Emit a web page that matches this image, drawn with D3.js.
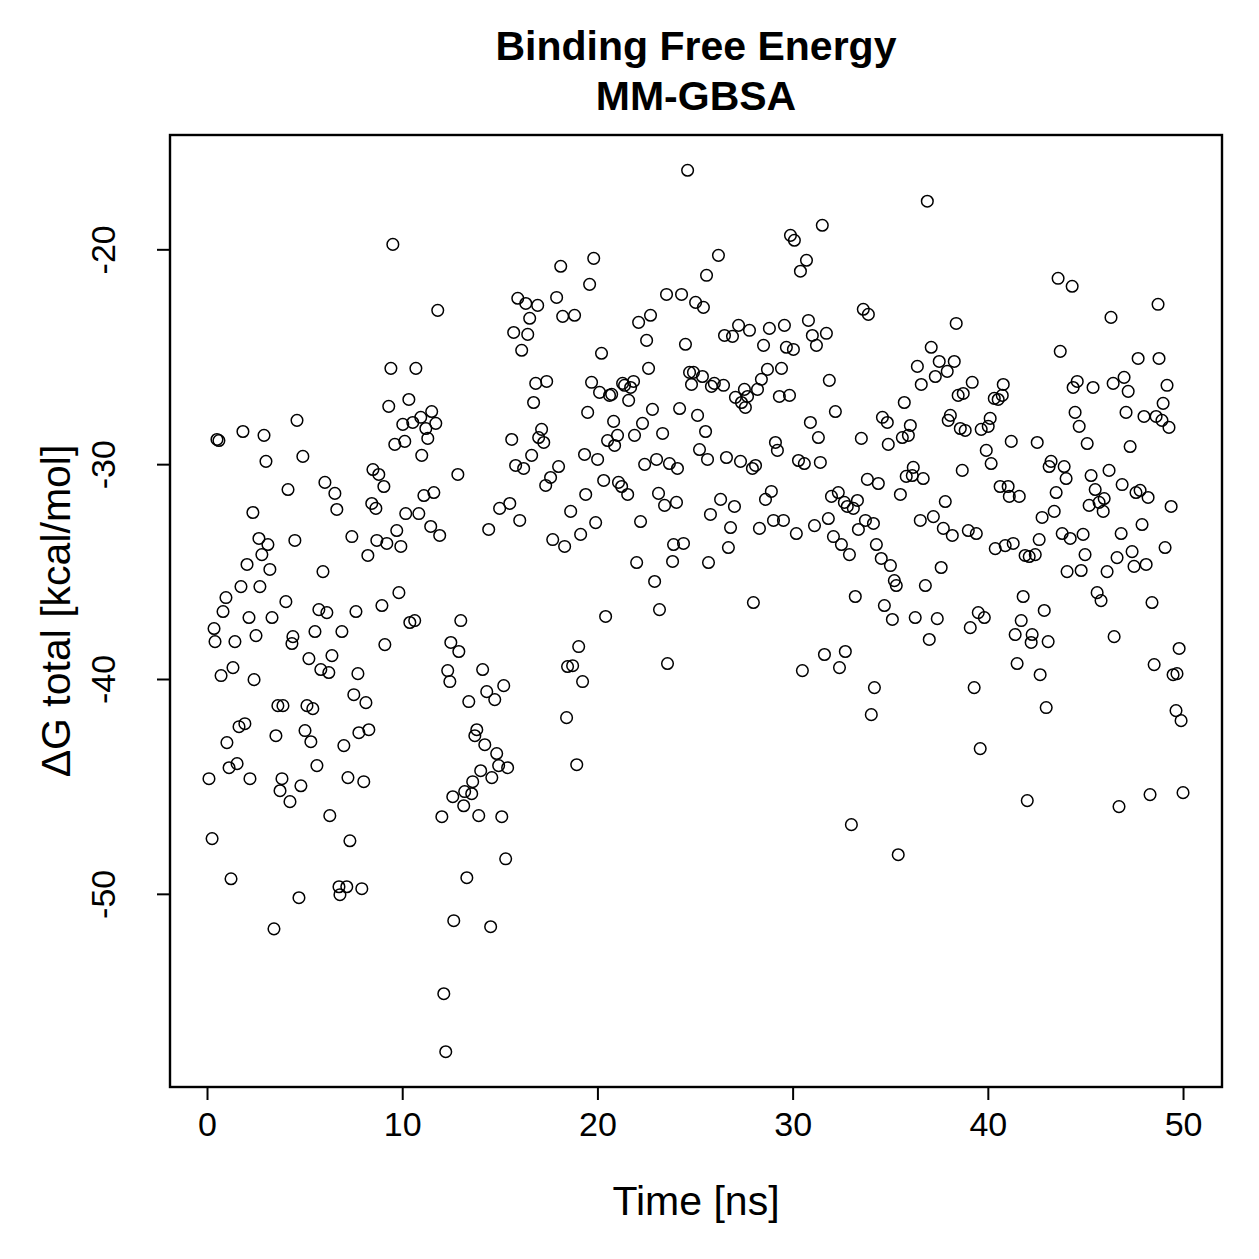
<!DOCTYPE html>
<html>
<head>
<meta charset="utf-8">
<script src="https://cdn.jsdelivr.net/npm/d3@7"></script>
<style>
  body { margin: 0; background: #fff; }
  svg text { font-family: "Liberation Sans", Arial, Helvetica, sans-serif; fill: #000; }
</style>
</head>
<body>
<div class="chartDiv"></div>
<script>
// MM-GBSA binding free energy over simulation time

let titleLines = ["Binding Free Energy", "MM-GBSA"];
let xLabel = "Time [ns]";
let yLabel = "\u0394G total [kcal/mol]";
let xTicks = [0, 10, 20, 30, 40, 50];
let yTicks = [-50, -40, -30, -20];

// time [ns]
let time = [
  0.10, 0.26, 0.36, 0.41, 0.51, 0.61, 0.72, 0.82, 0.97, 1.02, 1.13, 1.23, 1.33, 1.43, 1.54, 1.64, 1.74, 1.84, 1.94, 2.05,
  2.15, 2.20, 2.35, 2.41, 2.51, 2.66, 2.71, 2.81, 2.92, 3.02, 3.12, 3.22, 3.33, 3.43, 3.53, 3.63, 3.74, 3.84, 3.89, 4.04,
  4.15, 4.25, 4.35, 4.40, 4.50, 4.61, 4.71, 4.81, 4.91, 5.02, 5.12, 5.22, 5.32, 5.42, 5.53, 5.63, 5.73, 5.83, 5.94, 6.04,
  6.14, 6.24, 6.29, 6.40, 6.55, 6.65, 6.76, 6.81, 6.91, 7.01, 7.16, 7.22, 7.32, 7.42, 7.52, 7.63, 7.73, 7.78, 7.93, 8.03,
  8.14, 8.24, 8.29, 8.44, 8.50, 8.65, 8.70, 8.80, 8.96, 9.06, 9.11, 9.21, 9.31, 9.42, 9.52, 9.62, 9.72, 9.83, 9.93, 10.03,
  10.13, 10.18, 10.34, 10.39, 10.54, 10.64, 10.70, 10.85, 10.95, 11.00, 11.11, 11.21, 11.31, 11.46, 11.51, 11.62, 11.72, 11.82, 11.92, 12.03,
  12.13, 12.23, 12.33, 12.44, 12.49, 12.59, 12.64, 12.85, 12.90, 13.00, 13.15, 13.20, 13.31, 13.41, 13.56, 13.61, 13.72, 13.82, 13.92, 14.02,
  14.12, 14.23, 14.33, 14.43, 14.53, 14.59, 14.74, 14.84, 14.94, 14.99, 15.10, 15.20, 15.30, 15.40, 15.51, 15.61, 15.71, 15.81, 15.92, 16.02,
  16.12, 16.22, 16.33, 16.43, 16.53, 16.63, 16.73, 16.84, 16.94, 16.99, 17.14, 17.25, 17.35, 17.40, 17.60, 17.71, 17.91, 18.01, 18.12, 18.22,
  18.32, 18.42, 18.47, 18.63, 18.73, 18.83, 18.94, 19.04, 19.14, 19.24, 19.34, 19.40, 19.50, 19.60, 19.70, 19.81, 19.91, 20.01, 20.11, 20.21,
  20.32, 20.42, 20.52, 20.62, 20.73, 20.83, 20.88, 21.03, 21.08, 21.24, 21.29, 21.39, 21.55, 21.60, 21.70, 21.85, 21.90, 22.01, 22.11, 22.21,
  22.31, 22.42, 22.52, 22.62, 22.72, 22.82, 22.93, 23.03, 23.13, 23.18, 23.34, 23.44, 23.54, 23.59, 23.69, 23.85, 23.90, 24.05, 24.10, 24.21,
  24.31, 24.41, 24.51, 24.62, 24.72, 24.82, 24.92, 25.03, 25.13, 25.23, 25.38, 25.43, 25.54, 25.59, 25.64, 25.69, 25.79, 25.84, 25.99, 26.20,
  26.31, 26.46, 26.51, 26.61, 26.71, 26.82, 26.92, 27.02, 27.07, 27.23, 27.33, 27.38, 27.53, 27.58, 27.69, 27.79, 27.94, 27.99, 28.10, 28.20,
  28.30, 28.40, 28.51, 28.61, 28.71, 28.81, 28.91, 29.02, 29.12, 29.22, 29.32, 29.43, 29.53, 29.58, 29.68, 29.84, 29.89, 30.04, 30.09, 30.19,
  30.30, 30.40, 30.50, 30.60, 30.71, 30.81, 30.91, 31.01, 31.12, 31.22, 31.32, 31.42, 31.52, 31.63, 31.73, 31.83, 31.88, 31.99, 32.09, 32.19,
  32.34, 32.40, 32.50, 32.65, 32.70, 32.80, 32.91, 33.01, 33.11, 33.21, 33.32, 33.37, 33.52, 33.62, 33.73, 33.83, 33.88, 34.03, 34.14, 34.19,
  34.29, 34.39, 34.54, 34.60, 34.70, 34.85, 34.90, 35.01, 35.11, 35.21, 35.31, 35.41, 35.52, 35.62, 35.72, 35.82, 35.93, 36.03, 36.13, 36.18,
  36.28, 36.39, 36.54, 36.59, 36.69, 36.80, 36.90, 37.00, 37.10, 37.21, 37.31, 37.41, 37.51, 37.61, 37.72, 37.82, 37.92, 37.97, 38.08, 38.18,
  38.28, 38.38, 38.48, 38.59, 38.69, 38.74, 38.84, 39.00, 39.10, 39.20, 39.30, 39.41, 39.51, 39.61, 39.66, 39.82, 39.92, 40.02, 40.12, 40.17,
  40.33, 40.38, 40.53, 40.63, 40.74, 40.79, 40.89, 41.04, 41.10, 41.20, 41.30, 41.40, 41.50, 41.61, 41.71, 41.81, 41.91, 42.02, 42.12, 42.22,
  42.27, 42.43, 42.53, 42.63, 42.68, 42.78, 42.89, 42.99, 43.09, 43.14, 43.24, 43.40, 43.50, 43.60, 43.71, 43.81, 43.91, 44.01, 44.06, 44.22,
  44.32, 44.37, 44.47, 44.58, 44.68, 44.78, 44.88, 44.98, 45.09, 45.19, 45.29, 45.39, 45.50, 45.60, 45.70, 45.80, 45.91, 45.96, 46.11, 46.21,
  46.31, 46.42, 46.47, 46.62, 46.72, 46.83, 46.88, 46.98, 47.08, 47.19, 47.29, 47.39, 47.49, 47.59, 47.70, 47.80, 47.90, 48.00, 48.11, 48.21,
  48.31, 48.41, 48.52, 48.62, 48.72, 48.77, 48.92, 48.98, 49.08, 49.18, 49.28, 49.39, 49.49, 49.64, 49.69, 49.80, 49.90, 50.00
];

// delta G total [kcal/mol]
let dGtotal = [
  -44.64, -47.43, -37.65, -38.26, -28.85, -28.90, -39.84, -36.86, -36.21, -42.96, -44.13, -49.30, -39.47, -38.26, -43.94, -42.22, -35.70, -28.48, -42.08, -34.67,
  -37.14, -44.64, -32.25, -40.03, -37.98, -33.46, -35.70, -34.21, -28.66, -29.87, -33.74, -34.90, -37.14, -51.63, -42.64, -41.24, -45.20, -44.64, -41.24, -36.40,
  -31.18, -45.71, -38.35, -38.03, -33.55, -27.96, -50.18, -44.97, -29.64, -42.40, -41.24, -39.05, -42.92, -41.38, -37.79, -44.03, -36.77, -39.56, -35.00, -30.85,
  -36.91, -39.70, -46.36, -38.91, -31.36, -32.11, -49.67, -50.04, -37.79, -43.10, -49.67, -44.59, -47.53, -33.37, -40.73, -36.86, -39.75, -42.50, -49.76, -44.78,
  -41.10, -34.25, -42.36, -31.83, -30.25, -32.06, -33.55, -30.48, -36.58, -31.04, -38.40, -33.69, -27.31, -25.54, -19.77, -29.08, -33.09, -35.98, -33.83, -28.15,
  -28.94, -32.30, -26.99, -37.37, -28.06, -37.28, -25.54, -32.30, -27.82, -29.59, -31.46, -28.34, -28.80, -32.90, -27.55, -31.32, -28.10, -22.84, -33.32, -46.41,
  -54.65, -57.35, -39.61, -40.12, -38.30, -45.48, -51.25, -30.48, -38.72, -37.28, -45.90, -45.24, -49.25, -41.05, -45.34, -44.78, -42.64, -42.36, -46.36, -44.27,
  -39.56, -43.06, -40.59, -33.04, -51.53, -44.59, -40.96, -43.47, -44.03, -32.06, -46.41, -40.31, -48.37, -44.13, -31.83, -28.85, -23.87, -30.06, -22.28, -32.62,
  -24.70, -30.20, -22.52, -23.96, -23.21, -29.59, -27.13, -26.24, -22.61, -28.76, -28.38, -28.99, -30.99, -26.15, -30.62, -33.51, -22.24, -30.11, -20.79, -23.12,
  -33.83, -41.80, -39.42, -32.20, -39.38, -23.07, -43.99, -38.49, -33.27, -40.12, -29.55, -31.41, -27.59, -21.63, -26.19, -20.42, -32.72, -29.78, -26.66, -24.84,
  -30.76, -37.09, -28.90, -26.80, -26.75, -28.01, -29.13, -28.66, -30.85, -31.04, -26.24, -26.33, -31.41, -27.03, -26.43, -26.15, -28.66, -34.58, -23.40, -32.67,
  -28.10, -30.01, -24.24, -25.54, -23.07, -27.45, -35.46, -29.78, -31.36, -36.77, -28.57, -31.92, -22.10, -39.28, -29.97, -34.53, -33.74, -31.78, -30.20, -27.41,
  -22.10, -33.69, -24.42, -16.32, -25.73, -26.29, -25.73, -22.47, -27.73, -29.32, -25.92, -22.70, -28.48, -21.21, -29.78, -34.58, -32.34, -26.38, -26.24, -20.28,
  -31.64, -26.33, -24.01, -29.69, -33.88, -32.95, -24.05, -31.97, -26.89, -23.54, -29.87, -27.13, -26.52, -27.36, -26.85, -23.77, -30.20, -36.44, -30.06, -26.52,
  -32.99, -26.05, -24.47, -31.64, -25.59, -23.68, -31.27, -32.62, -28.99, -29.36, -26.85, -25.54, -32.62, -23.54, -24.56, -26.80, -19.35, -24.66, -19.58, -33.23,
  -29.83, -21.02, -39.61, -29.97, -20.51, -23.31, -28.06, -24.01, -32.86, -24.47, -28.76, -29.92, -18.88, -38.86, -23.91, -32.53, -26.10, -31.50, -33.37, -27.55,
  -31.32, -39.47, -33.74, -31.78, -38.72, -31.97, -34.21, -46.78, -32.06, -36.16, -31.69, -33.04, -28.80, -22.79, -32.62, -30.71, -23.03, -41.66, -32.76, -40.40,
  -33.74, -30.90, -34.39, -27.82, -36.58, -28.06, -29.08, -34.72, -37.23, -35.42, -35.65, -48.18, -31.41, -28.76, -27.13, -30.57, -28.66, -28.20, -30.53, -30.15,
  -37.14, -25.45, -32.62, -26.29, -30.67, -35.65, -17.76, -38.16, -24.56, -32.44, -25.92, -37.19, -25.22, -34.81, -32.99, -31.74, -25.68, -27.96, -27.73, -33.32,
  -25.22, -23.45, -26.80, -28.34, -30.29, -26.71, -28.43, -33.09, -37.61, -26.19, -40.40, -33.23, -36.91, -43.24, -28.38, -37.14, -29.36, -28.24, -27.87, -29.97,
  -26.94, -33.93, -26.99, -31.04, -26.80, -26.29, -33.79, -31.04, -31.50, -28.94, -33.69, -37.93, -39.28, -31.50, -37.28, -36.16, -34.25, -45.66, -34.30, -38.30,
  -37.93, -34.21, -28.99, -33.51, -39.80, -32.48, -36.81, -41.33, -38.26, -30.11, -29.87, -32.20, -31.32, -21.35, -24.75, -33.23, -30.11, -30.67, -35.00, -33.46,
  -21.72, -26.43, -27.59, -26.15, -28.24, -34.95, -33.27, -34.21, -29.04, -31.92, -30.53, -26.43, -31.18, -35.98, -31.78, -36.35, -32.20, -31.60, -35.00, -30.29,
  -23.17, -26.24, -38.03, -34.35, -45.94, -33.23, -30.95, -25.96, -27.59, -26.61, -29.18, -34.07, -34.76, -31.32, -25.08, -31.22, -32.81, -27.78, -34.67, -31.55,
  -45.38, -36.44, -39.33, -27.78, -22.56, -25.08, -27.96, -27.17, -33.88, -26.33, -28.29, -31.97, -39.80, -41.47, -39.75, -38.58, -41.94, -45.29
];

let svgWidth = 1259;
let svgHeight = 1259;

let margin = {
  top: 135,
  bottom: 172,
  right: 37,
  left: 170
};

let graphWidth = svgWidth - margin.left - margin.right;
let graphHeight = svgHeight - margin.top - margin.bottom;

let svg = d3.select('.chartDiv')
            .append('svg')
            .attr('width', svgWidth)
            .attr('height', svgHeight);

let chartGroup = svg.append('g')
                    .attr('transform', `translate(${margin.left}, ${margin.top})`);

let data = time.map((t, i) => ({ t: t, g: dGtotal[i] }));

// R style 4% padding on both ends
let pad = (ext) => {
  let d = (ext[1] - ext[0]) * 0.04;
  return [ext[0] - d, ext[1] + d];
};

let xScale = d3.scaleLinear()
               .domain(pad(d3.extent(time)))
               .range([0, graphWidth]);

let yScale = d3.scaleLinear()
               .domain(pad(d3.extent(dGtotal)))
               .range([graphHeight, 0]);

let fontSize = 34;
let labelSize = 41;

// axes (plain hyphen minus like R)
let bottomAxis = d3.axisBottom(xScale)
                   .tickValues(xTicks)
                   .tickSize(13)
                   .tickPadding(12)
                   .tickFormat(d => String(d));

let leftAxis = d3.axisLeft(yScale)
                 .tickValues(yTicks)
                 .tickSize(13)
                 .tickFormat(d => String(d));

let xAxisG = chartGroup.append('g')
                       .attr('transform', `translate(0, ${graphHeight})`)
                       .call(bottomAxis);

let yAxisG = chartGroup.append('g')
                       .call(leftAxis);

[xAxisG, yAxisG].forEach(g => {
  g.select('.domain').remove();
  g.selectAll('.tick line').attr('stroke', '#000').attr('stroke-width', 2);
  g.selectAll('.tick text')
   .attr('font-size', fontSize)
   .attr('font-family', '"Liberation Sans", Arial, sans-serif')
   .attr('fill', '#000');
});

// rotated y tick labels like R (las = 0)
yAxisG.selectAll('.tick text')
      .attr('x', null)
      .attr('dy', null)
      .attr('text-anchor', 'middle')
      .attr('transform', 'translate(-55, 0) rotate(-90)');

// points
chartGroup.append('g')
          .selectAll('circle')
          .data(data)
          .enter()
          .append('circle')
          .attr('cx', d => xScale(d.t))
          .attr('cy', d => yScale(d.g))
          .attr('r', 5.8)
          .attr('fill', 'none')
          .attr('stroke', '#000')
          .attr('stroke-width', 1.5);

// box
chartGroup.append('rect')
          .attr('x', 0)
          .attr('y', 0)
          .attr('width', graphWidth)
          .attr('height', graphHeight)
          .attr('fill', 'none')
          .attr('stroke', '#000')
          .attr('stroke-width', 2.4);

// titles
let cx = margin.left + graphWidth / 2;

svg.append('g')
   .selectAll('text')
   .data(titleLines)
   .enter()
   .append('text')
   .attr('x', cx)
   .attr('y', (d, i) => 60 + i * 50)
   .attr('text-anchor', 'middle')
   .attr('font-size', labelSize)
   .attr('font-weight', 'bold')
   .text(d => d);

svg.append('text')
   .attr('x', cx)
   .attr('y', 1215)
   .attr('text-anchor', 'middle')
   .attr('font-size', labelSize)
   .text(xLabel);

svg.append('text')
   .attr('transform', `translate(70, ${margin.top + graphHeight / 2}) rotate(-90)`)
   .attr('text-anchor', 'middle')
   .attr('font-size', labelSize)
   .text(yLabel);
</script>
</body>
</html>
